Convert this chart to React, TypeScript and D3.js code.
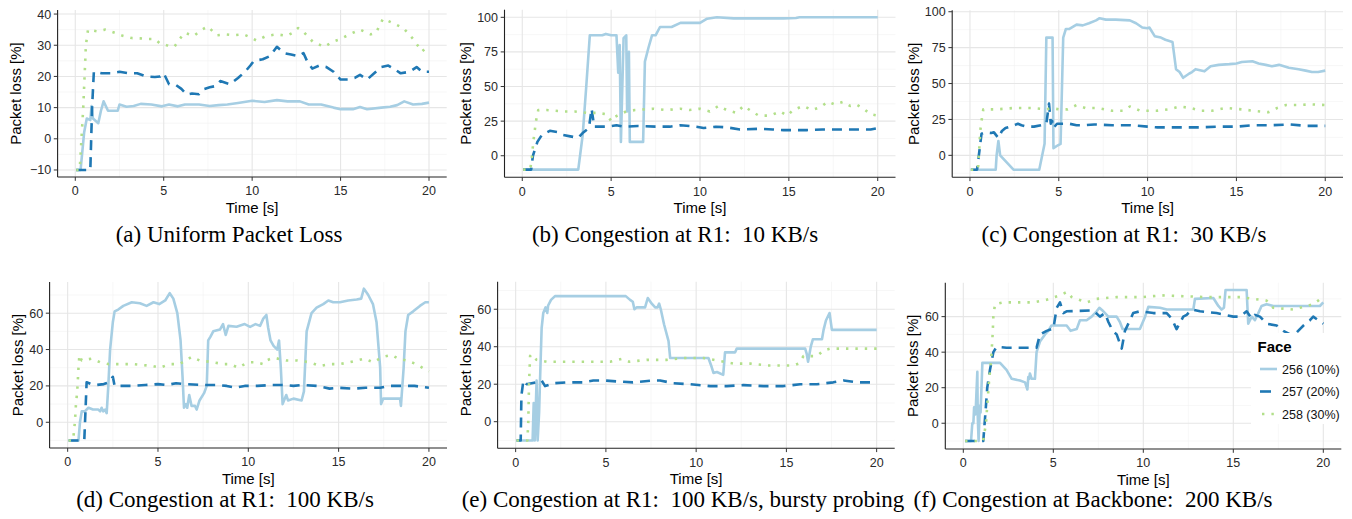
import React from 'react';
import * as d3 from 'd3';

type Pt = [number, number];

// ---- data: [time (s), packet loss (%)] ----
const faces = ['256 (10%)', '257 (20%)', '258 (30%)'];
const xTicks = [0, 5, 10, 15, 20];
const xMinor = [2.5, 7.5, 12.5, 17.5];

// (a) uniform packet loss
const a256: Pt[] = [[0.05,-10],[0.3,-10],[0.5,2],[0.65,6.5],[0.85,6],[0.92,10.5],[1.0,6.5],[1.3,5],[1.45,9],[1.6,12],[1.85,9],[2.4,9],[2.5,11],[2.9,10.3],[3.3,10.5],[3.7,11.2],[4.3,11],[4.9,10.4],[5.3,11],[5.8,10.4],[6.2,11],[7.0,11],[7.6,10.5],[8.1,10.8],[8.6,11],[9.2,11.5],[10.0,12.2],[10.7,11.8],[11.4,12.4],[12.0,12],[12.7,12],[13.2,11],[13.9,11],[14.6,10],[15.0,9.5],[15.7,9.5],[16.1,10.2],[16.5,9.5],[17.3,10],[17.8,10.3],[18.2,10.8],[18.6,12],[19.1,11],[19.6,11.2],[20,11.6]];
const a257: Pt[] = [[0.05,-10],[0.85,-10],[0.95,10],[1.05,21.5],[1.5,21],[2.0,21],[2.5,21.5],[3.0,21],[3.5,21],[4.0,20],[4.5,19.8],[4.8,20],[5.0,21],[5.3,17.5],[5.7,17.2],[6.0,16],[6.3,14.2],[6.6,14.5],[7.0,14.3],[7.3,16],[7.6,16.5],[8.0,17],[8.2,18.5],[8.75,17.5],[9.2,19.5],[9.6,21.5],[9.9,23.5],[10.1,25],[10.6,25.5],[11.0,26.5],[11.4,29.5],[11.8,27.5],[12.2,27],[12.6,26.5],[12.9,27.5],[13.1,25],[13.4,22.5],[13.8,23.5],[14.2,23],[14.6,21.5],[15.0,19],[15.4,19],[15.8,19.5],[16.1,20.5],[16.5,19],[16.9,21],[17.3,23],[17.7,23.5],[18.0,22.5],[18.4,21],[18.9,21.5],[19.3,23],[19.6,21.5],[20,21.5]];
const a258: Pt[] = [[0.05,-10],[0.25,-10],[0.45,10],[0.6,30],[0.72,35],[1.2,34.5],[1.7,35],[2.25,34],[2.7,33],[3.2,32.3],[3.65,32.2],[4.1,32],[4.5,32],[4.8,30.5],[5.15,30],[5.6,29.5],[5.9,32],[6.2,34],[6.7,33],[7.15,35],[7.5,36],[8.0,33.2],[8.5,33.5],[9.0,33.2],[9.5,33.5],[9.8,32.8],[10.25,31.5],[10.8,33],[11.4,33.5],[11.95,33],[12.3,34],[12.6,35.5],[12.95,34],[13.45,31],[14.1,29.5],[14.5,31],[15.0,32],[15.5,33.5],[16.1,35],[16.7,33.5],[17.0,34],[17.4,38.5],[18.0,37],[18.55,35.5],[19.1,32],[19.6,28],[20,30]];

// (b) congestion at R1, 10 KB/s
const b256: Pt[] = [[0.05,-10],[3.15,-10],[3.4,15],[3.6,50],[3.8,87],[4.5,87],[4.7,88],[5.0,87],[5.3,87],[5.4,60],[5.48,80],[5.55,10],[5.7,85],[5.85,87],[5.9,32],[6.0,75],[6.05,10],[6.5,10],[6.8,10],[6.9,68],[7.1,78],[7.3,87],[7.5,87],[7.75,93],[8.4,93],[8.9,96],[10.0,96],[10.4,99],[10.95,100],[11.9,99.2],[14.7,99.2],[15.4,99.5],[15.6,100],[20,100]];
const b257: Pt[] = [[0.05,-10],[0.5,-10],[0.6,0],[0.85,10],[1.1,15],[1.55,18],[2.0,17],[2.3,15],[2.7,14],[3.15,13],[3.45,17],[3.75,20],[3.9,34],[4.05,21],[4.75,21],[5.3,22],[5.7,21],[6.5,21.5],[7.5,21],[8.3,21],[8.9,22],[9.8,21],[10.2,20],[10.9,21],[11.5,20.5],[12.25,19],[13.4,19.5],[14.1,19],[14.7,18.5],[16.0,18.5],[16.9,19],[18.0,19],[19.2,19],[19.6,19],[20,20]];
const b258: Pt[] = [[0.05,-10],[0.45,-10],[0.55,0],[0.62,10],[0.77,25],[0.9,33],[1.37,33],[2.3,32],[2.95,32],[3.6,31],[4.2,31],[4.75,30],[5.0,25],[5.2,28],[5.5,30],[5.85,32],[6.35,33],[7.4,34],[8.1,33],[8.9,34],[9.4,33],[10.0,34],[10.55,32],[11.05,36],[11.5,33],[12.05,31],[12.45,36],[12.8,33],[13.3,29],[13.95,29],[14.5,32],[14.9,29],[15.25,33],[15.8,36],[16.3,33],[16.75,35],[17.2,39],[17.6,37],[18.05,39],[18.45,36],[18.8,37],[19.2,34],[19.6,30],[20,29]];

// (c) congestion at R1, 30 KB/s
const c256: Pt[] = [[0.05,-10],[1.45,-10],[1.5,0],[1.6,10],[1.7,0],[2.45,-10],[3.9,-10],[4.2,8],[4.3,82],[4.65,82],[4.7,5],[4.95,7],[5.1,8],[5.25,82],[5.4,88],[5.6,88],[6.0,91],[6.35,90.5],[6.7,92],[7.1,94],[7.3,95.5],[7.65,94.5],[8.2,94.5],[9.0,94],[9.35,92],[9.7,89],[10.0,88.5],[10.1,89],[10.4,83],[10.75,82],[11.0,80.5],[11.4,79],[11.6,60],[11.8,58],[12.0,54],[12.35,57],[12.5,58],[12.7,60],[13.2,58.5],[13.55,62],[14.0,63],[14.6,63.5],[15.0,64],[15.3,65],[15.9,65.5],[16.25,64],[16.65,63],[17.0,62],[17.4,63],[17.95,61],[18.5,60],[18.9,59],[19.25,58],[19.6,58],[20,59]];
const c257: Pt[] = [[0.05,-10],[0.4,-10],[0.5,0],[0.65,15],[0.85,16],[1.2,15.5],[1.35,16],[1.6,12],[1.8,17],[2.0,19],[2.5,21],[2.7,22],[2.9,21],[3.2,20],[3.6,20],[4.0,21],[4.3,22],[4.45,36],[4.55,22],[4.62,24],[4.7,19],[4.9,22],[5.3,22],[5.6,22],[6.0,21],[6.5,21],[7.0,21.5],[8.0,21],[9.0,21],[10.0,20],[10.5,19.5],[11.0,19.5],[12.0,19.5],[13.0,19.5],[14.0,20],[15.0,20],[16.0,21],[17.0,21],[18.0,21.5],[19.0,20.5],[20,20.5]];
const c258: Pt[] = [[0.05,-10],[0.45,-10],[0.5,0],[0.58,17],[0.65,24],[0.75,32],[1.5,32],[2.5,33],[3.5,33],[4.3,32],[4.6,33],[5.0,32],[5.5,32],[6.0,35],[6.5,33],[7.2,33],[8.0,31],[8.6,31],[9.0,34],[9.6,31],[10.5,31],[11.2,32],[11.8,34],[12.4,33],[13.0,31],[13.6,31],[14.4,33],[15.3,32],[16.0,31],[16.8,30],[17.3,33],[17.8,35],[18.5,35],[19.2,35.5],[20,35]];

// (d) congestion at R1, 100 KB/s
const d256: Pt[] = [[0.22,-10],[0.6,-10],[0.68,0],[0.78,6],[0.95,6],[1.15,8],[1.4,7],[1.7,7],[1.8,6],[1.88,8],[1.97,6],[2.07,7],[2.16,5],[2.25,20],[2.35,40],[2.5,55],[2.6,61],[2.8,62],[3.08,64],[3.55,66],[4.0,65.5],[4.37,64],[4.75,66],[5.07,65],[5.4,67],[5.65,71],[5.85,68],[6.07,60],[6.25,45],[6.36,25],[6.44,8],[6.55,10],[6.62,8],[6.73,15],[6.86,9],[7.05,9],[7.14,7],[7.3,12],[7.55,16],[7.7,20],[7.78,45],[7.9,47],[8.06,50],[8.43,51],[8.6,54],[8.75,48],[8.9,53],[9.35,52.5],[9.8,54],[10.1,52.5],[10.4,54],[10.65,53],[10.83,57],[11.0,59],[11.1,52],[11.23,45],[11.4,42],[11.6,40],[11.7,45],[11.8,30],[11.9,10],[12.1,15],[12.2,12],[12.5,13],[12.95,12],[13.08,17],[13.23,50],[13.5,60],[13.78,63],[14.15,65],[14.43,67],[14.7,66],[15.07,66],[15.53,67],[16.0,67.5],[16.25,68],[16.4,73.5],[16.64,70],[16.9,65],[17.1,55],[17.3,30],[17.35,10],[17.47,13],[18.4,13],[18.45,9],[18.6,30],[18.7,50],[18.85,59],[19.13,61],[19.5,64],[19.8,66],[20,66]];
const d257: Pt[] = [[0.05,-10],[0.92,-10],[1.05,22],[1.3,21],[1.6,20.5],[2.0,21],[2.3,22],[2.5,25],[2.6,20],[3.5,20],[4.3,20.5],[5.0,21],[5.5,20.5],[6.0,21.5],[6.5,21],[7.5,20.5],[8.3,20.5],[8.8,20],[9.3,19],[9.8,20],[10.5,20],[11.3,20.5],[12.0,20.5],[12.5,20],[13.0,20.5],[13.8,20],[14.5,18.5],[15.0,19],[15.8,18.5],[16.5,19],[17.3,19],[17.8,20],[18.5,20],[19.2,20],[20,19]];
const d258: Pt[] = [[0.05,-10],[0.3,-10],[0.4,0],[0.46,10],[0.53,17],[0.6,30],[0.65,37],[0.78,34],[1.33,35],[1.8,33],[2.25,32],[3.0,32],[3.63,32],[4.65,31],[5.1,30],[5.66,32],[6.2,32],[6.86,36],[7.3,34],[8.06,33],[8.6,32],[9.0,32],[9.45,30],[9.8,32],[10.1,33],[10.46,33],[10.83,32],[11.0,34],[11.4,35.5],[12.1,34],[12.7,34],[13.4,33],[13.97,31],[14.5,32],[15.07,32],[15.6,33],[16.45,35],[16.9,33],[17.47,36],[17.93,37],[18.3,35],[18.76,34],[19.3,32],[19.8,29],[20,28]];

// (e) congestion at R1, 100 KB/s, bursty probing
const e256: Pt[] = [[0.05,-10],[0.94,-10],[1.0,10],[1.06,-10],[1.16,22],[1.22,-10],[1.3,5],[1.35,22],[1.44,50],[1.53,58],[1.66,61],[1.75,58],[1.8,62],[1.96,65],[2.18,67],[6.1,67],[6.34,65],[6.49,64],[6.58,60],[6.7,61],[7.17,61],[7.32,66],[7.54,63],[7.73,61],[7.86,61],[7.95,63],[8.04,60],[8.22,52],[8.47,43],[8.56,34],[10.68,34],[10.83,30],[10.96,26],[11.15,26.5],[11.5,25],[11.6,37],[12.16,37],[12.25,39],[16.04,39],[16.13,36],[16.2,32],[16.35,40],[16.47,44],[16.97,44],[17.06,49],[17.19,54],[17.39,58],[17.52,49],[20,49]];
const e257: Pt[] = [[0.05,-10],[0.28,-10],[0.32,14],[0.43,22],[0.61,20],[1.16,21],[1.44,22],[1.63,19],[2.09,20.5],[2.83,21],[3.75,21],[4.3,22],[4.86,22],[5.6,21.5],[6.5,21],[7.63,22],[8.0,22],[8.74,20.5],[9.67,20],[10.78,19],[11.7,19],[12.62,19.5],[13.73,19],[14.84,19],[15.77,20],[16.69,20],[17.6,21],[18.17,22],[18.9,21],[20,21]];
const e258: Pt[] = [[0.05,-10],[0.65,-10],[0.7,0],[0.74,20],[0.8,35],[0.89,36],[1.16,33],[1.72,32],[3.75,32],[5.23,32],[5.88,33.5],[6.3,32],[7.26,33],[8.37,33],[9.3,34],[10.4,34],[10.96,33],[11.52,32],[12.07,31],[13.0,31],[13.92,30],[15.4,30],[15.67,31],[15.95,35],[16.69,35],[17.06,38],[17.43,39],[20,39]];

// (f) congestion at backbone, 200 KB/s
const f256: Pt[] = [[0.1,-10],[0.43,-10],[0.5,0],[0.56,0],[0.6,9],[0.67,5],[0.7,10],[0.78,29],[0.8,5],[0.85,-10],[0.92,10],[0.96,6],[1.06,34],[2.04,34],[2.4,30],[2.69,25],[3.15,24],[3.43,23],[3.56,19],[3.61,26],[3.66,25],[3.7,28],[3.8,25],[3.98,25],[4.07,40],[4.26,46],[4.54,50],[4.72,52],[4.9,55],[5.74,55],[5.96,52],[6.3,53],[6.48,58],[6.85,58],[7.13,60],[7.41,63],[7.56,65],[7.78,63],[8.06,60],[8.52,60],[8.7,57],[8.85,53],[9.81,53],[10.1,60],[10.28,65.5],[10.93,65],[11.3,64],[12.78,64],[12.87,70],[13.89,70.5],[14.17,66],[14.35,64],[14.48,65],[14.57,75],[15.74,75],[15.83,56],[16.02,60],[16.2,58],[16.39,62],[16.57,66],[16.85,67],[17.22,66],[19.81,66],[20,68]];
const f257: Pt[] = [[0.1,-10],[1.11,-10],[1.26,10],[1.33,20],[1.48,30],[1.67,40],[1.85,43],[2.4,42.5],[4.07,42.5],[4.26,50],[4.63,52],[4.9,53],[5.0,53],[5.19,65],[5.37,68],[5.56,62],[5.74,63],[7.22,63.5],[7.59,60],[7.87,62],[8.06,57],[8.3,52],[8.52,50],[8.8,42],[8.98,52],[9.26,58],[9.44,62],[9.81,63],[10.56,62],[11.3,62],[11.57,59],[11.85,53],[12.22,60],[12.41,61],[12.69,64],[13.15,63],[14.07,62],[15.0,60],[15.37,60],[15.74,63],[16.02,59],[16.2,61],[16.48,60],[16.85,56],[17.41,55],[17.78,52],[18.33,49],[18.7,53],[18.9,55],[19.26,58],[19.44,60],[20,56]];
const f258: Pt[] = [[0.1,-10],[1.1,-10],[1.26,0],[1.33,10],[1.44,25],[1.54,35],[1.63,50],[1.67,60],[1.76,67],[2.22,68],[3.89,68],[4.63,69.5],[5.09,71],[5.37,72],[5.78,74],[6.02,71],[6.85,68],[7.41,70],[8.52,71],[10.0,71],[11.02,72],[12.22,71.5],[13.52,71],[15.37,71],[16.11,70],[16.85,69],[17.22,65],[18.33,64],[19.07,66],[19.44,67],[19.85,70],[20,69]];

const ticksA = [-10, 0, 10, 20, 30, 40];
const minorA = [-5, 5, 15, 25, 35];
const ticksBC = [0, 25, 50, 75, 100];
const minorBC = [-12.5, 12.5, 37.5, 62.5, 87.5];
const ticksDEF = [0, 20, 40, 60];
const minorDEF = [-10, 10, 30, 50, 70];

const captions = [
  '(a) Uniform Packet Loss',
  '(b) Congestion at R1:\u200210 KB/s',
  '(c) Congestion at R1:\u200230 KB/s',
  '(d) Congestion at R1:\u2002100 KB/s',
  '(e) Congestion at R1:\u2002100 KB/s, bursty probing',
  '(f) Congestion at Backbone:\u2002200 KB/s',
];

// ---- styling ----
const colors = ['#a6cee3', '#1f78b4', '#b2df8a'];
const dashes = [null, '10,7', '2.4,7'];
const LW = 2.6;
const SANS = 'Liberation Sans, Arial, Helvetica, sans-serif';
const SERIF = 'Liberation Serif, Times New Roman, serif';

const panels = [
  { series: [a256, a257, a258], yDom: [-12.25, 41.3], ticks: ticksA, minor: minorA, l: 57.6, r: 446.7, t: 10, b: 177, yt: 20.7, cx: 229, cy: 242 },
  { series: [b256, b257, b258], yDom: [-15.5, 105.5], ticks: ticksBC, minor: minorBC, l: 504.5, r: 895.5, t: 9.7, b: 177.2, yt: 470.7, cx: 675, cy: 242 },
  { series: [c256, c257, c258], yDom: [-15.3, 101], ticks: ticksBC, minor: minorBC, l: 952.2, r: 1343, t: 10.3, b: 177.3, yt: 919.3, cx: 1124, cy: 242 },
  { series: [d256, d257, d258], yDom: [-14.15, 77.15], ticks: ticksDEF, minor: minorDEF, l: 49.6, r: 447, t: 282, b: 448, yt: 23.3, cx: 225, cy: 507 },
  { series: [e256, e257, e258], yDom: [-14.2, 74.7], ticks: ticksDEF, minor: minorDEF, l: 497.6, r: 894.7, t: 281.7, b: 448.3, yt: 470.7, cx: 683, cy: 507 },
  { series: [f256, f257, f258], yDom: [-14.5, 79.1], ticks: ticksDEF, minor: minorDEF, l: 945.3, r: 1341.3, t: 282.7, b: 449, yt: 918.3, cx: 1093, cy: 507 },
];

const fmt = (v: number) => (v < 0 ? '\u2212' + Math.abs(v) : String(v));

function Panel({ p, idx }: { p: typeof panels[number]; idx: number }) {
  const x = d3.scaleLinear().domain([-1, 21]).range([p.l, p.r]);
  const y = d3.scaleLinear().domain(p.yDom).range([p.b, p.t]);
  const line = d3.line<Pt>().x(d => x(d[0])).y(d => y(d[1]));
  return (
    <g>
      {/* grid */}
      {p.minor.map(v => (
        <line key={'ym' + v} x1={p.l} x2={p.r} y1={y(v)} y2={y(v)} stroke="#f2f2f2" strokeWidth={0.6} />
      ))}
      {xMinor.map(v => (
        <line key={'xm' + v} x1={x(v)} x2={x(v)} y1={p.t} y2={p.b} stroke="#f2f2f2" strokeWidth={0.6} />
      ))}
      {p.ticks.map(v => (
        <line key={'yg' + v} x1={p.l} x2={p.r} y1={y(v)} y2={y(v)} stroke="#e6e6e6" strokeWidth={1.1} />
      ))}
      {xTicks.map(v => (
        <line key={'xg' + v} x1={x(v)} x2={x(v)} y1={p.t} y2={p.b} stroke="#e6e6e6" strokeWidth={1.1} />
      ))}
      {/* series */}
      {p.series.map((s, i) => (
        <path key={i} d={line(s) || ''} fill="none" stroke={colors[i]} strokeWidth={LW}
          strokeDasharray={dashes[i] || undefined} strokeLinejoin="round" />
      ))}
      {/* axes */}
      <line x1={p.l} x2={p.l} y1={p.t} y2={p.b} stroke="#222" strokeWidth={1.1} />
      <line x1={p.l} x2={p.r} y1={p.b} y2={p.b} stroke="#222" strokeWidth={1.1} />
      {p.ticks.map(v => (
        <g key={'yt' + v}>
          <line x1={p.l - 3.8} x2={p.l} y1={y(v)} y2={y(v)} stroke="#333" strokeWidth={1} />
          <text x={p.l - 6.5} y={y(v)} dy="0.36em" textAnchor="end" fontSize={12.5} fill="#2a2a2a" fontFamily={SANS}>{fmt(v)}</text>
        </g>
      ))}
      {xTicks.map(v => (
        <g key={'xt' + v}>
          <line x1={x(v)} x2={x(v)} y1={p.b} y2={p.b + 3.8} stroke="#333" strokeWidth={1} />
          <text x={x(v)} y={p.b + 18.3} textAnchor="middle" fontSize={12.5} fill="#2a2a2a" fontFamily={SANS}>{v}</text>
        </g>
      ))}
      <text x={(p.l + p.r) / 2} y={p.b + 35.5} textAnchor="middle" fontSize={15} fontFamily={SANS}>Time [s]</text>
      <text transform={`translate(${p.yt},${(p.t + p.b) / 2}) rotate(-90)`} textAnchor="middle" fontSize={15} fontFamily={SANS}>Packet loss [%]</text>
      <text x={p.cx} y={p.cy} textAnchor="middle" fontSize={23} fontFamily={SERIF}>{captions[idx]}</text>
    </g>
  );
}

function Legend() {
  const lx = 1251, ly = 333;
  return (
    <g>
      <rect x={lx} y={ly} width={95} height={91} fill="#fff" />
      <text x={lx + 6.5} y={ly + 18.5} fontSize={15} fontWeight="bold" fontFamily={SANS}>Face</text>
      {faces.map((f, i) => {
        const cy = ly + 36 + i * 22.5;
        return (
          <g key={f}>
            <line x1={lx + 9} x2={lx + 26} y1={cy} y2={cy} stroke={colors[i]} strokeWidth={LW}
              strokeDasharray={i === 2 ? '2.4,7' : i === 1 ? '11,7' : undefined}
              strokeDashoffset={i === 2 ? -2 : 0} />
            <text x={lx + 31} y={cy} dy="0.36em" fontSize={12.5} fill="#111" fontFamily={SANS}>{f}</text>
          </g>
        );
      })}
    </g>
  );
}

export default function App() {
  return (
    <svg width={1352} height={519} style={{ position: 'absolute', left: 0, top: 0, background: '#fff' }}>
      <rect width={1352} height={519} fill="#fff" />
      {panels.map((p, i) => (
        <Panel key={i} p={p} idx={i} />
      ))}
      <Legend />
    </svg>
  );
}
